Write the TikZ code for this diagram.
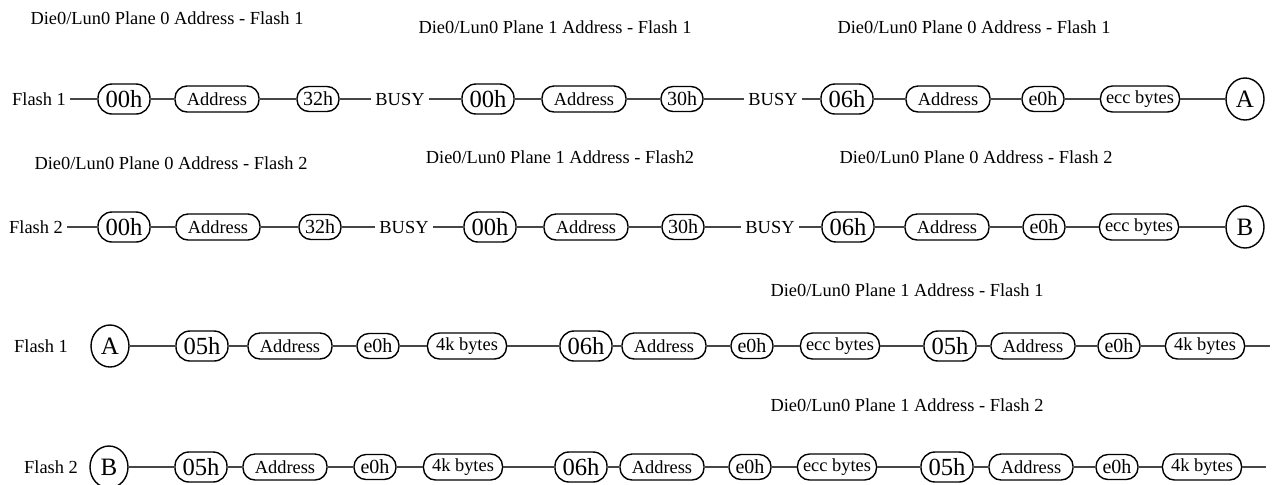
\documentclass[tikz,border=0pt]{standalone}
\usepackage{fontspec}
\setmainfont{Liberation Serif}
\usepackage{tikz}
\usetikzlibrary{shapes.geometric}
\definecolor{wiregray}{RGB}{70,70,70}

\begin{document}
\begin{tikzpicture}[x=0.5pt,y=-0.5pt,
  cmd/.style={draw,line width=0.7pt,rounded corners=7pt,minimum width=26pt,minimum height=15pt,inner sep=1pt,font=\fontsize{12.3}{14}\selectfont},
  addr/.style={draw,line width=0.7pt,rounded corners=6pt,minimum width=42pt,minimum height=13pt,inner sep=1pt,font=\fontsize{9.2}{11}\selectfont},
  hexbox/.style={draw,line width=0.7pt,rounded corners=6pt,minimum width=21pt,minimum height=12.5pt,inner sep=1pt,font=\fontsize{10}{12}\selectfont},
  databox/.style={draw,line width=0.7pt,rounded corners=6pt,minimum width=39.5pt,minimum height=13pt,inner sep=1pt,font=\fontsize{9.2}{11}\selectfont},
  pin/.style={draw,line width=0.7pt,ellipse,minimum width=19pt,minimum height=21pt,inner sep=0pt,font=\fontsize{12.5}{14}\selectfont},
  lbl/.style={inner sep=2pt,font=\fontsize{9.2}{11}\selectfont},
  wire/.style={draw=wiregray,line width=0.7pt}]
  \useasboundingbox (0,0) rectangle (1274,484);

  \node[lbl] (t1a) at (167,18) {Die0/Lun0 Plane 0 Address - Flash 1};
  \node[lbl] (t1b) at (555,27) {Die0/Lun0 Plane 1 Address - Flash 1};
  \node[lbl] (t1c) at (974,27) {Die0/Lun0 Plane 0 Address - Flash 1};
  \node[lbl] (t2a) at (171,163) {Die0/Lun0 Plane 0 Address - Flash 2};
  \node[lbl] (t2b) at (560,157) {Die0/Lun0 Plane 1 Address - Flash2};
  \node[lbl] (t2c) at (976,157) {Die0/Lun0 Plane 0 Address - Flash 2};
  \node[lbl] (t3) at (907,290) {Die0/Lun0 Plane 1 Address - Flash 1};
  \node[lbl] (t4) at (907,405) {Die0/Lun0 Plane 1 Address - Flash 2};

  \node[lbl] (f1) at (39,99) {Flash 1};
  \node[cmd] (r1a) at (124,99) {00h};
  \node[addr] (r1b) at (217,99) {Address};
  \node[hexbox] (r1c) at (318,99) {32h};
  \node[lbl] (r1d) at (400,99) {BUSY};
  \node[cmd] (r1e) at (488,99) {00h};
  \node[addr] (r1f) at (584,99) {Address};
  \node[hexbox] (r1g) at (682,99) {30h};
  \node[lbl] (r1h) at (773,99) {BUSY};
  \node[cmd] (r1i) at (847,99) {06h};
  \node[addr] (r1j) at (948,99) {Address};
  \node[hexbox] (r1k) at (1043,99) {e0h};
  \node[databox] (r1l) at (1140,99) {ecc bytes};
  \node[pin] (r1m) at (1245,99) {A};

  \node[lbl] (f2) at (36,227) {Flash 2};
  \node[cmd] (r2a) at (124,227) {00h};
  \node[addr] (r2b) at (218,227) {Address};
  \node[hexbox] (r2c) at (320,227) {32h};
  \node[lbl] (r2d) at (404,227) {BUSY};
  \node[cmd] (r2e) at (490,227) {00h};
  \node[addr] (r2f) at (586,227) {Address};
  \node[hexbox] (r2g) at (683,227) {30h};
  \node[lbl] (r2h) at (770,227) {BUSY};
  \node[cmd] (r2i) at (848,227) {06h};
  \node[addr] (r2j) at (947,227) {Address};
  \node[hexbox] (r2k) at (1044,227) {e0h};
  \node[databox] (r2l) at (1139,227) {ecc bytes};
  \node[pin] (r2m) at (1245,227) {B};

  \node[lbl] (f3) at (41,346) {Flash 1};
  \node[pin] (r3a) at (110,346) {A};
  \node[cmd] (r3b) at (202,346) {05h};
  \node[addr] (r3c) at (290,346) {Address};
  \node[hexbox] (r3d) at (378,346) {e0h};
  \node[databox] (r3e) at (467,346) {4k bytes};
  \node[cmd] (r3f) at (586,346) {06h};
  \node[addr] (r3g) at (664,346) {Address};
  \node[hexbox] (r3h) at (752,346) {e0h};
  \node[databox] (r3i) at (840,346) {ecc bytes};
  \node[cmd] (r3j) at (950,346) {05h};
  \node[addr] (r3k) at (1033,346) {Address};
  \node[hexbox] (r3l) at (1119,346) {e0h};
  \node[databox] (r3m) at (1205,346) {4k bytes};
  \coordinate (r3end) at (1270,346);

  \node[lbl] (f4) at (51,467) {Flash 2};
  \node[pin] (r4a) at (109,467) {B};
  \node[cmd] (r4b) at (201,467) {05h};
  \node[addr] (r4c) at (285,467) {Address};
  \node[hexbox] (r4d) at (375,467) {e0h};
  \node[databox] (r4e) at (463,467) {4k bytes};
  \node[cmd] (r4f) at (581,467) {06h};
  \node[addr] (r4g) at (662,467) {Address};
  \node[hexbox] (r4h) at (750,467) {e0h};
  \node[databox] (r4i) at (837,467) {ecc bytes};
  \node[cmd] (r4j) at (947,467) {05h};
  \node[addr] (r4k) at (1031,467) {Address};
  \node[hexbox] (r4l) at (1117,467) {e0h};
  \node[databox] (r4m) at (1202,467) {4k bytes};
  \coordinate (r4end) at (1266,467);

  \foreach \a/\b in {f1/r1a,r1a/r1b,r1b/r1c,r1c/r1d,r1d/r1e,r1e/r1f,r1f/r1g,r1g/r1h,r1h/r1i,r1i/r1j,r1j/r1k,r1k/r1l,r1l/r1m,
    f2/r2a,r2a/r2b,r2b/r2c,r2c/r2d,r2d/r2e,r2e/r2f,r2f/r2g,r2g/r2h,r2h/r2i,r2i/r2j,r2j/r2k,r2k/r2l,r2l/r2m,
    r3a/r3b,r3b/r3c,r3c/r3d,r3d/r3e,r3e/r3f,r3f/r3g,r3g/r3h,r3h/r3i,r3i/r3j,r3j/r3k,r3k/r3l,r3l/r3m,r3m/r3end,
    r4a/r4b,r4b/r4c,r4c/r4d,r4d/r4e,r4e/r4f,r4f/r4g,r4g/r4h,r4h/r4i,r4i/r4j,r4j/r4k,r4k/r4l,r4l/r4m,r4m/r4end}
    \draw[wire] (\a) -- (\b);
\end{tikzpicture}
\end{document}
